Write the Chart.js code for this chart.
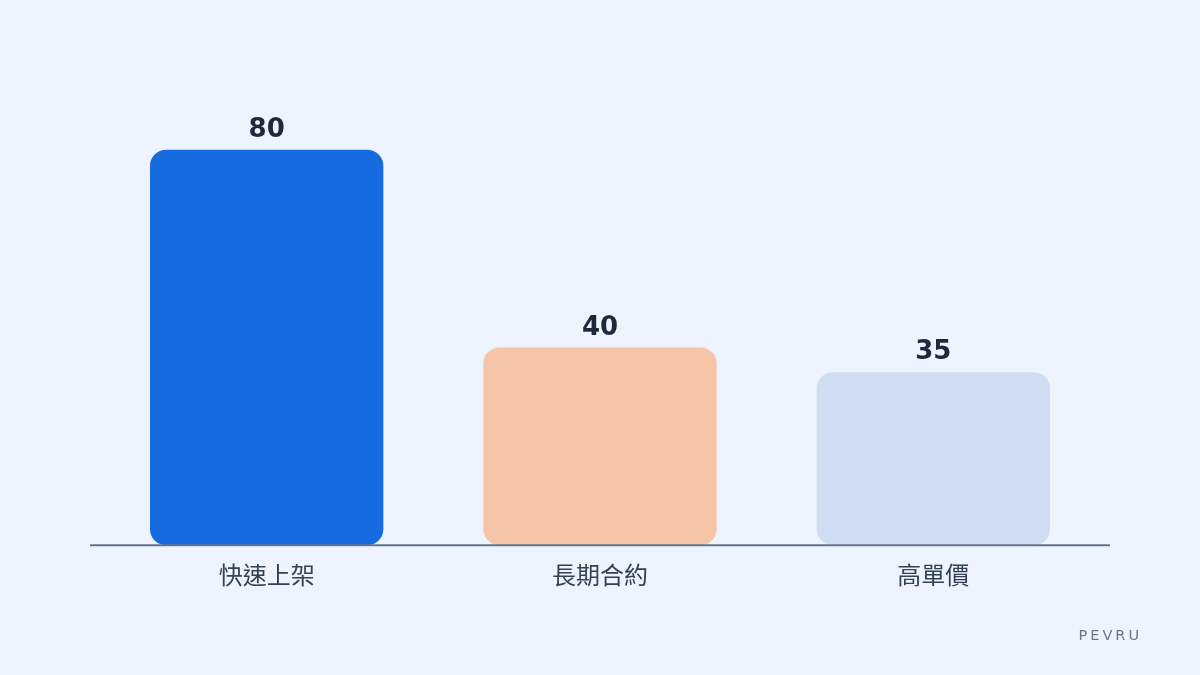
<!DOCTYPE html>
<html>
<head>
<meta charset="utf-8">
<script src="https://cdn.jsdelivr.net/npm/chart.js@4"></script>
<style>
html,body{margin:0;padding:0;background:#EEF4FE;}
#wrap{position:relative;width:1200px;height:675px;}
#mark{position:absolute;right:58px;top:627px;font-family:"DejaVu Sans",sans-serif;font-size:14.5px;letter-spacing:3px;color:#6B7689;}
</style>
</head>
<body>
<div id="wrap">
<canvas id="c" width="1200" height="675"></canvas>
<div id="mark">PEVRU</div>
</div>
<script>
const categories = ["快速上架", "長期合約", "高單價"];
const values = [80, 40, 35];
const barColors = ["#176BE0", "#F6C4A6", "#D0DCF1"];

const valueLabels = {
  id: 'valueLabels',
  afterDatasetsDraw(chart) {
    const ctx = chart.ctx;
    const meta = chart.getDatasetMeta(0);
    ctx.save();
    ctx.font = 'bold 26px "DejaVu Sans", sans-serif';
    ctx.fillStyle = '#1E293B';
    ctx.textAlign = 'center';
    ctx.textBaseline = 'alphabetic';
    meta.data.forEach((bar, i) => {
      ctx.fillText(String(values[i]), bar.x, bar.y - 13);
    });
    ctx.restore();
  }
};
const baseLine = {
  id: 'baseLine',
  afterDatasetsDraw(chart) {
    const ctx = chart.ctx;
    const y = chart.scales.y.getPixelForValue(0);
    ctx.save();
    ctx.strokeStyle = '#64748B';
    ctx.lineWidth = 2;
    ctx.beginPath();
    ctx.moveTo(chart.chartArea.left - 10, y);
    ctx.lineTo(chart.chartArea.right + 10, y);
    ctx.stroke();
    ctx.restore();
  }
};

new Chart(document.getElementById('c'), {
  type: 'bar',
  data: {
    labels: categories,
    datasets: [{
      data: values,
      backgroundColor: barColors,
      borderRadius: 16,
      borderSkipped: false,
      barPercentage: 0.7,
      categoryPercentage: 1.0
    }]
  },
  options: {
    responsive: false,
    animation: false,
    layout: { padding: { top: 51, left: 100, right: 100, bottom: 79 } },
    plugins: { legend: { display: false }, tooltip: { enabled: false } },
    scales: {
      x: {
        grid: { display: false },
        border: { display: false },
        ticks: {
          padding: 7,
          color: '#334155',
          font: { family: '"Noto Sans CJK TC", sans-serif', size: 24 }
        }
      },
      y: {
        display: false,
        min: 0,
        max: 100
      }
    }
  },
  plugins: [valueLabels, baseLine]
});
</script>
</body>
</html>
